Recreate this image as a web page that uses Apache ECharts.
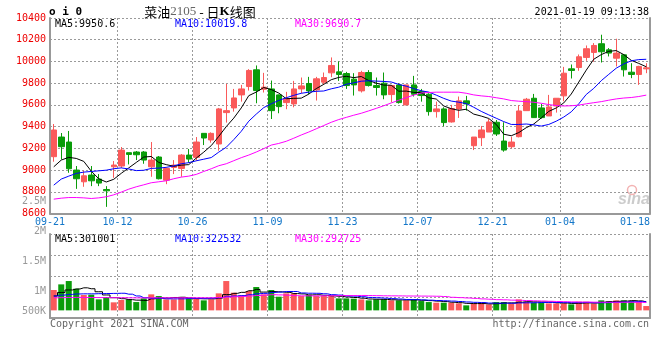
<!DOCTYPE html>
<html><head><meta charset="utf-8">
<script src="https://cdn.jsdelivr.net/npm/echarts@6/dist/echarts.min.js"></script>
<style>html,body{margin:0;padding:0;background:#fff}#c{width:660px;height:360px}</style>
</head><body><div id="c"></div>
<script>
const dates = ['09-21','09-22','09-23','09-24','09-25','09-28','09-29','09-30','10-09','10-12',
'10-13','10-14','10-15','10-16','10-19','10-20','10-21','10-22','10-23','10-26',
'10-27','10-28','10-29','10-30','11-02','11-03','11-04','11-05','11-06','11-09',
'11-10','11-11','11-12','11-13','11-16','11-17','11-18','11-19','11-20','11-23',
'11-24','11-25','11-26','11-27','11-30','12-01','12-02','12-03','12-04','12-07',
'12-08','12-09','12-10','12-11','12-14','12-15','12-16','12-17','12-18','12-21',
'12-22','12-23','12-24','12-25','12-28','12-29','12-30','12-31','01-04','01-05',
'01-06','01-07','01-08','01-11','01-12','01-13','01-14','01-15','01-18','01-19'];
const opens = [9123,9304,9258,9000,8892,8954,8917,8821,9030,9037,
9160,9166,9166,9030,9120,8907,9024,9015,9138,9117,
9338,9277,9240,9529,9572,9692,9769,9923,9744,9747,
9692,9621,9609,9747,9797,9738,9809,9895,9904,9889,
9837,9729,9898,9778,9800,9695,9784,9600,9784,9723,
9698,9538,9563,9443,9563,9637,9224,9298,9350,9440,
9267,9215,9307,9547,9661,9572,9498,9590,9683,9932,
9944,10037,10083,10163,10107,10030,10061,9901,9880,9932];
const closes = [9369,9215,9012,8920,8947,8901,8880,8809,9046,9184,
9144,9141,9092,9092,8920,9015,9046,9138,9101,9258,
9295,9338,9563,9547,9664,9747,9917,9732,9763,9547,
9584,9658,9747,9775,9729,9840,9852,9963,9880,9778,
9784,9898,9778,9760,9692,9778,9621,9784,9698,9686,
9538,9563,9437,9566,9637,9609,9304,9369,9443,9332,
9184,9258,9544,9652,9483,9483,9581,9661,9892,9917,
10043,10117,10147,10089,10077,10077,9923,9880,9954,9941];
const lows = [9077,9098,8975,8827,8846,8852,8852,8661,8929,9020,
9052,9092,9058,8938,8914,8870,8963,8938,9067,9086,
9230,9252,9178,9437,9538,9630,9732,9615,9714,9470,
9523,9560,9578,9707,9698,9640,9784,9855,9821,9747,
9686,9714,9769,9686,9652,9624,9612,9597,9677,9630,
9501,9483,9403,9437,9480,9547,9184,9221,9350,9314,
9169,9200,9301,9547,9480,9474,9498,9529,9634,9843,
9914,10006,9997,9990,10046,9954,9861,9846,9784,9892];
const highs = [9424,9341,9360,9037,8994,9037,8963,8852,9083,9212,
9160,9175,9175,9258,9129,9024,9092,9147,9194,9304,
9338,9347,9572,9794,9747,9784,9929,9963,9895,9824,
9695,9720,9821,9852,9858,9858,9898,10037,10000,9904,
9892,9914,9920,9852,9898,9781,9800,9784,9867,9747,
9707,9630,9578,9600,9677,9683,9304,9406,9470,9461,
9440,9307,9597,9664,9701,9609,9692,9661,9950,9972,
10064,10147,10169,10246,10123,10209,10067,9984,9960,9984];
const ma5 = [9030,9092,9117,9107,9080,8990,8920,8890,8915,8970,
9020,9070,9120,9125,9070,9050,9035,9045,9050,9110,
9165,9225,9310,9400,9478,9572,9685,9718,9760,9741,
9709,9657,9660,9662,9699,9750,9789,9832,9853,9863,
9851,9861,9824,9800,9782,9781,9726,9727,9715,9713,
9665,9654,9590,9565,9550,9560,9515,9497,9475,9420,
9330,9316,9345,9390,9424,9480,9540,9572,9618,9700,
9810,9920,10020,10063,10093,10100,10063,10010,9982,9951];
const ma10 = [8861,8917,8944,8969,8981,8987,8993,8999,9012,9020,
9010,8995,8998,9015,9018,9025,9038,9058,9068,9085,
9100,9115,9165,9210,9280,9357,9450,9515,9575,9610,
9641,9666,9688,9707,9717,9725,9728,9748,9763,9790,
9803,9818,9822,9819,9816,9811,9789,9772,9750,9730,
9718,9690,9660,9635,9625,9612,9578,9540,9508,9477,
9446,9420,9420,9424,9416,9405,9420,9450,9488,9536,
9610,9696,9752,9823,9881,9938,9977,10006,10017,10020];
const ma30 = [8732,8741,8747,8747,8744,8738,8744,8754,8772,8797,
8824,8846,8864,8883,8892,8901,8920,8935,8944,8960,
8987,9012,9040,9058,9086,9114,9138,9166,9197,9230,
9245,9265,9293,9323,9350,9380,9410,9440,9465,9485,
9505,9523,9545,9568,9592,9618,9643,9667,9690,9710,
9714,9717,9717,9717,9717,9707,9692,9683,9677,9666,
9655,9640,9634,9630,9624,9615,9603,9594,9590,9592,
9598,9610,9620,9630,9643,9655,9663,9668,9677,9690];
const volumes = [720000,919000,1037000,765000,543000,554000,389000,471000,284000,366000,
389000,294000,424000,566000,506000,389000,389000,471000,424000,401000,
354000,389000,601000,1037000,625000,531000,683000,825000,566000,720000,
483000,601000,601000,506000,543000,506000,506000,506000,424000,424000,
413000,389000,354000,389000,389000,354000,354000,354000,389000,329000,
294000,271000,271000,271000,247000,177000,236000,271000,212000,294000,
294000,247000,389000,306000,271000,271000,247000,247000,247000,212000,
306000,306000,247000,354000,329000,354000,354000,329000,306000,153000];
const volMa5 = [509000,633000,721000,756000,797000,764000,658000,544000,448000,413000,
380000,361000,351000,408000,436000,436000,455000,464000,436000,415000,
408000,408000,434000,556000,601000,637000,695000,740000,646000,665000,
655000,639000,594000,582000,547000,551000,532000,513000,497000,473000,
455000,431000,401000,394000,387000,375000,368000,368000,368000,356000,
344000,327000,311000,287000,271000,247000,240000,240000,229000,238000,
261000,264000,287000,306000,301000,297000,297000,268000,257000,245000,
252000,264000,264000,285000,308000,318000,328000,344000,334000,299000];
const volMa10 = [509000,540000,565000,580000,585000,585000,590000,595000,600000,605000,
572000,509000,448000,428000,424000,408000,408000,408000,422000,425000,
422000,431000,449000,496000,508000,522000,552000,587000,601000,633000,
646000,667000,667000,614000,606000,603000,586000,554000,540000,510000,
503000,482000,457000,445000,430000,415000,400000,384000,381000,371000,
360000,348000,339000,328000,313000,296000,284000,276000,258000,254000,
254000,252000,264000,267000,270000,279000,280000,278000,281000,273000,
274000,280000,266000,271000,277000,285000,296000,304000,310000,304000];
const volMa30 = [445000,450000,455000,458000,456000,454000,452000,450000,448000,446000,
444000,442000,440000,442000,444000,444000,443000,445000,446000,445000,
444000,445000,452000,470000,482000,494000,508000,525000,540000,554000,
547000,536000,521000,513000,513000,511000,515000,516000,521000,523000,
524000,527000,524000,519000,515000,513000,512000,508000,507000,505000,
503000,499000,488000,462000,450000,438000,423000,405000,393000,379000,
372000,361000,353000,347000,338000,330000,321000,313000,307000,300000,
296000,293000,290000,289000,287000,287000,287000,286000,283000,277000];
const dateLabelIndex = [0,9,19,29,39,49,59,68,78];
const gridLineIndex = [9,19,29,39,49,59,68];
const volTickLabels = ['500K','1M','1.5M','2M','2.5M'];
const priceLegend = ['MA5:9950.6','MA10:10019.8','MA30:9690.7'];
const volLegend = ['MA5:301001','MA10:322532','MA30:292725'];
const headerCode = 'o i 0';
const headerTime = '2021-01-19 09:13:38';

const RED = '#fa5a5a', GREEN = '#0a9c0a', AXIS = '#999', GRIDC = '#9a9a9a';
const MONO = 'DejaVu Sans Mono';
const maColors = ['#000000', '#0000ff', '#ff00ff'];

const candleData = opens.map((o, i) => [o, closes[i], lows[i], highs[i]]);
const volData = volumes.map((v, i) => ({value: v, itemStyle: {color: closes[i] >= opens[i] ? RED : GREEN}}));

const dotStyle = {color: GRIDC, type: 'dashed', dashOffset: 0, width: 1};
dotStyle.type = [2, 2];

function catX(grid, showLabels) {
  return {
    type: 'category', gridIndex: grid, data: dates, boundaryGap: true,
    axisLine: {show: true, onZero: false, lineStyle: {color: AXIS, width: 2}},
    axisTick: {show: false},
    axisLabel: showLabels ? {
      show: true, interval: (idx) => dateLabelIndex.includes(idx),
      color: '#1477c9', fontFamily: MONO, fontSize: 10, margin: 4,
      padding: [0, 7.5, 0, 0]
    } : {show: false},
    splitLine: {show: true, interval: (idx) => gridLineIndex.includes(idx), lineStyle: dotStyle},
    z: 1
  };
}
function rightLine(grid, min, max) {
  return {type: 'value', gridIndex: grid, position: 'right', min: min, max: max,
    axisLine: {show: true, lineStyle: {color: AXIS, width: 2}},
    axisTick: {show: false}, axisLabel: {show: false}, splitLine: {show: false}};
}
function maLine(name, data, color, xi, yi, step) {
  return {name: name, type: 'line', xAxisIndex: xi, yAxisIndex: yi, data: data,
    symbol: 'none', step: step || false, lineStyle: {color: color, width: 1}, z: 5, silent: true};
}
function txt(x, y, text, fill, font, align) {
  return {type: 'text', x: x, y: y, silent: true,
    style: {text: text, fill: fill, font: font, align: align || 'left', verticalAlign: 'middle'}};
}

const chart = echarts.init(document.getElementById('c'), null, {renderer: 'canvas'});
chart.setOption({
  animation: false,
  backgroundColor: '#fff',
  grid: [
    {left: 50, top: 18, width: 600, height: 195.5},
    {left: 50, top: 234, width: 600, height: 84},
    {left: 50, top: 171, width: 600, height: 180}
  ],
  xAxis: [catX(0, true), catX(1, false), {type: 'category', gridIndex: 2, data: dates, show: false}],
  yAxis: [
    {type: 'value', gridIndex: 0, min: 8600, max: 10400, interval: 200,
      axisLine: {show: true, lineStyle: {color: AXIS, width: 2}}, axisTick: {show: false},
      axisLabel: {color: '#ee0000', fontFamily: MONO, fontSize: 10, margin: 4, padding: [0, 0, 4, 0],
        formatter: (v) => String(v)},
      splitLine: {show: true, lineStyle: dotStyle}},
    {type: 'value', gridIndex: 1, min: -270000, max: 2700000, interval: 742500,
      axisLine: {show: true, lineStyle: {color: AXIS, width: 2}}, axisTick: {show: false},
      axisLabel: {show: false},
      splitLine: {show: true, lineStyle: dotStyle}},
    {type: 'value', gridIndex: 2, min: 0, max: 3000000, interval: 500000,
      axisLine: {show: false}, axisTick: {show: false}, splitLine: {show: false},
      axisLabel: {show: true, color: '#999', fontFamily: MONO, fontSize: 10, margin: 4,
        formatter: (v) => {
          const i = Math.round(v / 500000) - 1;
          if (i < 0 || i >= volTickLabels.length) return '';
          return i === 0 ? '{lo|' + volTickLabels[i] + '}' : volTickLabels[i];
        },
        rich: {lo: {color: '#999', fontFamily: MONO, fontSize: 10, padding: [0, 0, 20, 0]}}}},
    rightLine(0, 8600, 10400),
    rightLine(1, -270000, 2700000)
  ],
  series: [
    {type: 'candlestick', xAxisIndex: 0, yAxisIndex: 0, data: candleData, barWidth: 6,
      itemStyle: {color: RED, color0: GREEN, borderColor: RED, borderColor0: GREEN, borderWidth: 1}, silent: true},
    maLine('MA5', ma5, maColors[0], 0, 0),
    maLine('MA10', ma10, maColors[1], 0, 0),
    maLine('MA30', ma30, maColors[2], 0, 0),
    {type: 'bar', xAxisIndex: 1, yAxisIndex: 1, data: volData, barWidth: 6, silent: true},
    maLine('VMA5', volMa5, maColors[0], 1, 1, 'middle'),
    maLine('VMA10', volMa10, maColors[1], 1, 1, 'middle'),
    maLine('VMA30', volMa30, maColors[2], 1, 1, 'middle')
  ],
  graphic: [
    txt(49, 12, headerCode, '#000', 'bold 11px ' + MONO),
    {type: 'text', x: 200, y: 12, silent: true, style: {
      text: '{a|菜油}{b|2105}{c| - 日}{d|K}{c|线图}', align: 'center', verticalAlign: 'middle',
      rich: {
        a: {font: '13px "Noto Sans CJK SC"', fill: '#000'},
        b: {font: '13px "Liberation Serif"', fill: '#666'},
        c: {font: '13px "Noto Sans CJK SC"', fill: '#000'},
        d: {font: 'bold 13px "Liberation Serif"', fill: '#000'}
      }}},
    txt(649, 12, headerTime, '#000', '10px ' + MONO, 'right'),
    txt(55, 24, priceLegend[0], maColors[0], '10px ' + MONO),
    txt(175, 24, priceLegend[1], maColors[1], '10px ' + MONO),
    txt(295, 24, priceLegend[2], maColors[2], '10px ' + MONO),
    txt(55, 239, volLegend[0], maColors[0], '10px ' + MONO),
    txt(175, 239, volLegend[1], maColors[1], '10px ' + MONO),
    txt(295, 239, volLegend[2], maColors[2], '10px ' + MONO),
    txt(50, 324, 'Copyright 2021 SINA.COM', '#666', '10px ' + MONO),
    txt(649, 324, 'http://finance.sina.com.cn', '#666', '10px ' + MONO, 'right'),
    {type: 'circle', silent: true, shape: {cx: 632, cy: 190, r: 4.5},
      style: {fill: 'none', stroke: '#f3b3b3', lineWidth: 1.5}},
    txt(634, 200, 'sina', '#cccccc', 'italic bold 16px "Liberation Sans"', 'center')
  ]
});
</script>
</body></html>
